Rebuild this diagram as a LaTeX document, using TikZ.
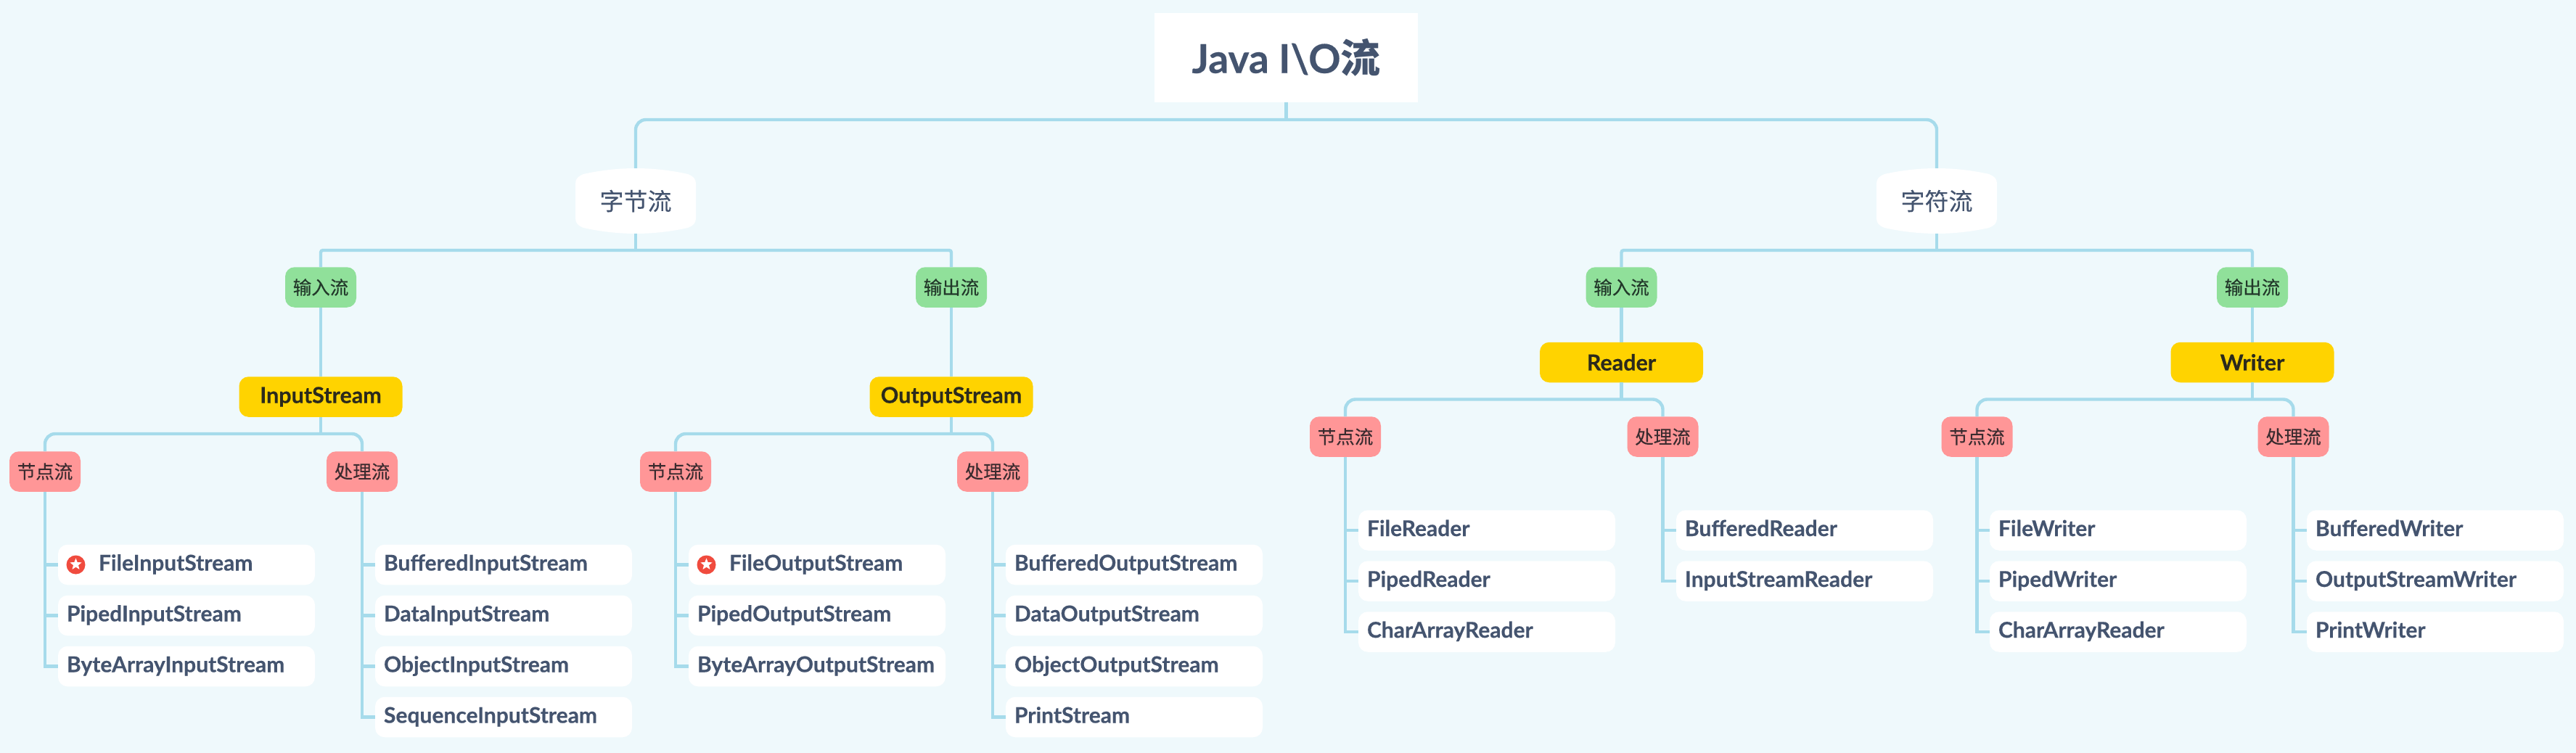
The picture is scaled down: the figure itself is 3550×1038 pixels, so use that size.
\documentclass[tikz,border=0pt]{standalone}
\usepackage{fontspec}
\usetikzlibrary{shapes.geometric}
\setmainfont[BoldFont={Lato Bold},BoldFeatures={FakeBold=0.35}]{Lato}
\newfontfamily\cjk[FakeBold=0.12]{Noto Sans CJK SC}
\newfontfamily\cjkb[FakeBold=0.3]{Noto Sans CJK SC}
\newfontfamily\cjkbb{Noto Sans CJK SC Bold}
\definecolor{bgc}{HTML}{EFF9FC}
\definecolor{linec}{HTML}{A6DBEB}
\definecolor{inkc}{HTML}{44546F}
\definecolor{darkg}{HTML}{22382A}
\definecolor{darkr}{HTML}{3A2B2F}
\definecolor{darky}{HTML}{2B2A1C}
\definecolor{greenc}{HTML}{90E09A}
\definecolor{redc}{HTML}{FF9697}
\definecolor{yellowc}{HTML}{FFD300}
\definecolor{starc}{HTML}{F04B3E}
\tikzset{
  conn/.style={draw=linec,line width=4.4pt},
  rootbox/.style={fill=white,minimum width=363pt,minimum height=123pt,inner sep=0pt,text=inkc,font=\fontsize{55}{66}\selectfont\bfseries},
  hexbox/.style={minimum width=166pt,minimum height=90pt,inner sep=0pt,text=inkc,font=\fontsize{33}{40}\selectfont\cjk},
  greenbox/.style={fill=greenc,rounded corners=13pt,minimum width=98pt,minimum height=55.5pt,inner sep=0pt,text=darkg,font=\fontsize{25.5}{32}\selectfont\cjkb},
  redbox/.style={fill=redc,rounded corners=13pt,minimum width=98pt,minimum height=55.5pt,inner sep=0pt,text=darkr,font=\fontsize{25.5}{32}\selectfont\cjkb},
  yellowbox/.style={fill=yellowc,rounded corners=13pt,minimum width=225pt,minimum height=55.5pt,inner sep=0pt,text=darky,font=\fontsize{30.5}{36}\selectfont\bfseries},
  leafbox/.style={fill=white,rounded corners=13pt,minimum width=354pt,minimum height=55.5pt,inner xsep=12pt,inner ysep=0pt,text width=330pt,align=left,text height=22pt,text depth=6pt,text=inkc,font=\fontsize{30}{36}\selectfont\bfseries},
  staricon/.style={circle,fill=starc,minimum size=26pt,inner sep=0pt},
  starmark/.style={star,star points=5,star point ratio=2.3,fill=white,minimum size=17pt,inner sep=0pt},
}
% curved plate behind a level-one node
\newcommand\plate[2]{%
  \fill[white] (#1-83,#2-24) .. controls (#1-83,#2-31) and (#1-79,#2-34) .. (#1-72,#2-37)
    .. controls (#1-50,#2-42) and (#1-25,#2-45) .. (#1,#2-45)
    .. controls (#1+25,#2-45) and (#1+50,#2-42) .. (#1+72,#2-37)
    .. controls (#1+79,#2-34) and (#1+83,#2-31) .. (#1+83,#2-24) -- (#1+83,#2+24)
    .. controls (#1+83,#2+31) and (#1+79,#2+34) .. (#1+72,#2+37)
    .. controls (#1+50,#2+42) and (#1+25,#2+45) .. (#1,#2+45)
    .. controls (#1-25,#2+45) and (#1-50,#2+42) .. (#1-72,#2+37)
    .. controls (#1-79,#2+34) and (#1-83,#2+31) .. (#1-83,#2+24) -- cycle;}
\newcommand\leafnode[4]{\node[leafbox] (#1) at (#2,#3) {#4};}
\begin{document}
\begin{tikzpicture}[x=1pt,y=-1pt]
\useasboundingbox (0,0) rectangle (3550,1038);
\fill[bgc] (0,0) rectangle (3550,1038);
\plate{876}{277}
\plate{2669}{277}
\node[rootbox] (root) at (1772.5,79.5) {Java I\textbackslash O{\cjkbb 流}};
\node[hexbox] (bytes) at (876,277) {字节流};
\node[hexbox] (chars) at (2669,277) {字符流};
\coordinate (rootj) at (1772.5,165);
\draw[conn] (root.south) -- (rootj);
\draw[conn,rounded corners=14pt] (bytes.north) |- (rootj) -| (chars.north);

% ---------- byte streams
\node[greenbox] (bin) at (442,396) {输入流};
\node[greenbox] (bout) at (1311,396) {输出流};
\coordinate (bj) at (876,345);
\draw[conn] (bytes.south) -- (bj);
\draw[conn,rounded corners=3pt] (bin.north) |- (bj) -| (bout.north);
\node[yellowbox] (is) at (442,547) {InputStream};
\node[yellowbox] (os) at (1311,547) {OutputStream};
\draw[conn] (bin.south) -- (is.north);
\draw[conn] (bout.south) -- (os.north);
\node[redbox] (isn) at (62,650) {节点流};
\node[redbox] (isp) at (499,650) {处理流};
\node[redbox] (osn) at (931,650) {节点流};
\node[redbox] (osp) at (1368,650) {处理流};
\coordinate (isj) at (442,598);
\coordinate (osj) at (1311,598);
\draw[conn] (is.south) -- (isj);
\draw[conn] (os.south) -- (osj);
\draw[conn,rounded corners=14pt] (isn.north) |- (isj) -| (isp.north);
\draw[conn,rounded corners=14pt] (osn.north) |- (osj) -| (osp.north);

\leafnode{a1}{257}{778.5}{\hspace*{44pt}FileInputStream}
\leafnode{a2}{257}{848.5}{PipedInputStream}
\leafnode{a3}{257}{918.5}{ByteArrayInputStream}
\leafnode{b1}{694}{778.5}{BufferedInputStream}
\leafnode{b2}{694}{848.5}{DataInputStream}
\leafnode{b3}{694}{918.5}{ObjectInputStream}
\leafnode{b4}{694}{988.5}{SequenceInputStream}
\leafnode{c1}{1126}{778.5}{\hspace*{44pt}FileOutputStream}
\leafnode{c2}{1126}{848.5}{PipedOutputStream}
\leafnode{c3}{1126}{918.5}{ByteArrayOutputStream}
\leafnode{d1}{1563}{778.5}{BufferedOutputStream}
\leafnode{d2}{1563}{848.5}{DataOutputStream}
\leafnode{d3}{1563}{918.5}{ObjectOutputStream}
\leafnode{d4}{1563}{988.5}{PrintStream}
\node[staricon] (s1) at (104.5,778.5) {};
\node[starmark] (s1m) at (104.5,778) {};
\node[staricon] (s2) at (973.5,778.5) {};
\node[starmark] (s2m) at (973.5,778) {};

\draw[conn] (isn.south) |- (a3.west);
\draw[conn] (a1.west -| isn.south) -- (a1.west);
\draw[conn] (a2.west -| isn.south) -- (a2.west);
\draw[conn] (isp.south) |- (b4.west);
\draw[conn] (b1.west -| isp.south) -- (b1.west);
\draw[conn] (b2.west -| isp.south) -- (b2.west);
\draw[conn] (b3.west -| isp.south) -- (b3.west);
\draw[conn] (osn.south) |- (c3.west);
\draw[conn] (c1.west -| osn.south) -- (c1.west);
\draw[conn] (c2.west -| osn.south) -- (c2.west);
\draw[conn] (osp.south) |- (d4.west);
\draw[conn] (d1.west -| osp.south) -- (d1.west);
\draw[conn] (d2.west -| osp.south) -- (d2.west);
\draw[conn] (d3.west -| osp.south) -- (d3.west);

% ---------- character streams
\node[greenbox] (cin) at (2234.5,396) {输入流};
\node[greenbox] (cout) at (3104,396) {输出流};
\coordinate (cj) at (2669,345);
\draw[conn] (chars.south) -- (cj);
\draw[conn,rounded corners=3pt] (cin.north) |- (cj) -| (cout.north);
\node[yellowbox] (rd) at (2234.5,499.5) {Reader};
\node[yellowbox] (wr) at (3104,499.5) {Writer};
\draw[conn] (cin.south) -- (rd.north);
\draw[conn] (cout.south) -- (wr.north);
\node[redbox] (rn) at (1854,602) {节点流};
\node[redbox] (rp) at (2291.5,602) {处理流};
\node[redbox] (wn) at (2724.5,602) {节点流};
\node[redbox] (wp) at (3160.5,602) {处理流};
\coordinate (rj) at (2234.5,550.5);
\coordinate (wj) at (3104,550.5);
\draw[conn] (rd.south) -- (rj);
\draw[conn] (wr.south) -- (wj);
\draw[conn,rounded corners=14pt] (rn.north) |- (rj) -| (rp.north);
\draw[conn,rounded corners=14pt] (wn.north) |- (wj) -| (wp.north);

\leafnode{e1}{2049}{731}{FileReader}
\leafnode{e2}{2049}{801}{PipedReader}
\leafnode{e3}{2049}{871}{CharArrayReader}
\leafnode{f1}{2487}{731}{BufferedReader}
\leafnode{f2}{2487}{801}{InputStreamReader}
\leafnode{g1}{2919}{731}{FileWriter}
\leafnode{g2}{2919}{801}{PipedWriter}
\leafnode{g3}{2919}{871}{CharArrayReader}
\leafnode{h1}{3356}{731}{BufferedWriter}
\leafnode{h2}{3356}{801}{OutputStreamWriter}
\leafnode{h3}{3356}{871}{PrintWriter}

\draw[conn] (rn.south) |- (e3.west);
\draw[conn] (e1.west -| rn.south) -- (e1.west);
\draw[conn] (e2.west -| rn.south) -- (e2.west);
\draw[conn] (rp.south) |- (f2.west);
\draw[conn] (f1.west -| rp.south) -- (f1.west);
\draw[conn] (wn.south) |- (g3.west);
\draw[conn] (g1.west -| wn.south) -- (g1.west);
\draw[conn] (g2.west -| wn.south) -- (g2.west);
\draw[conn] (wp.south) |- (h3.west);
\draw[conn] (h1.west -| wp.south) -- (h1.west);
\draw[conn] (h2.west -| wp.south) -- (h2.west);
\end{tikzpicture}
\end{document}
